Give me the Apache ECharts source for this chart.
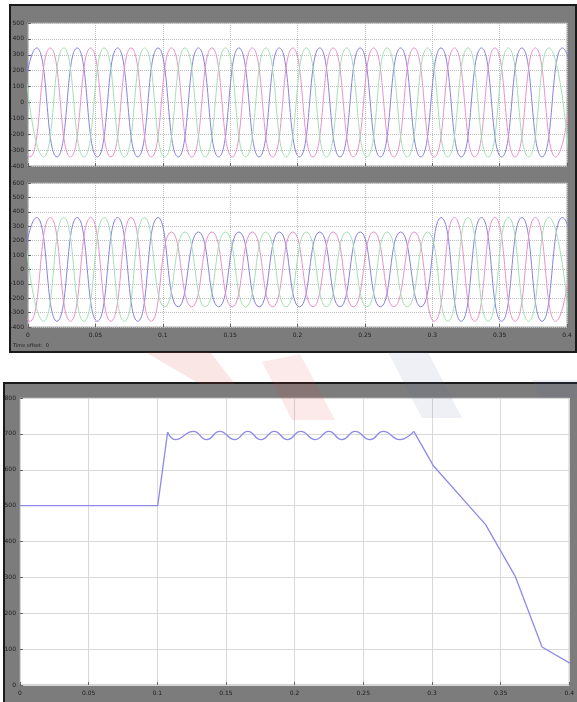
<!DOCTYPE html>
<html>
<head>
<meta charset="utf-8">
<script src="https://cdn.jsdelivr.net/npm/echarts@6/dist/echarts.min.js"></script>
<style>
html,body{margin:0;padding:0;background:#fff;}
#chart{width:577px;height:702px;}
</style>
</head>
<body>
<div id="chart"></div>
<script>
// ---- time axis ticks (s) ----
const timeTicks = [0, 0.05, 0.1, 0.15, 0.2, 0.25, 0.3, 0.35, 0.4];

// ---- three-phase waveforms: instants of each phase's peaks/troughs ----
const tPhaseA = [-0.0085,0.0065,0.0215,0.0365,0.0515,0.0665,0.0815,0.0965,0.1115,0.1265,0.1415,0.1565,0.1715,0.1865,0.2015,0.2165,0.2315,0.2465,0.2615,0.2765,0.2915,0.3065,0.3215,0.3365,0.3515,0.3665,0.3815,0.3965,0.4115];
const tPhaseB = [-0.0135,0.0015,0.0165,0.0315,0.0465,0.0615,0.0765,0.0915,0.1065,0.1215,0.1365,0.1515,0.1665,0.1815,0.1965,0.2115,0.2265,0.2415,0.2565,0.2715,0.2865,0.3015,0.3165,0.3315,0.3465,0.3615,0.3765,0.3915,0.4065];
const tPhaseC = [-0.0035,0.0115,0.0265,0.0415,0.0565,0.0715,0.0865,0.1015,0.1165,0.1315,0.1465,0.1615,0.1765,0.1915,0.2065,0.2215,0.2365,0.2515,0.2665,0.2815,0.2965,0.3115,0.3265,0.3415,0.3565,0.3715,0.3865,0.4015];

// upper scope panel: peak/trough values
const upperA = [-343,343,-343,343,-343,343,-343,343,-343,343,-343,343,-343,343,-343,343,-343,343,-343,343,-343,343,-343,343,-343,343,-343,343,-343];
const upperB = [343,-343,343,-343,343,-343,343,-343,343,-343,343,-343,343,-343,343,-343,343,-343,343,-343,343,-343,343,-343,343,-343,343,-343,343];
const upperC = [343,-343,343,-343,343,-343,343,-343,343,-343,343,-343,343,-343,343,-343,343,-343,343,-343,343,-343,343,-343,343,-343,343,-343];

// lower scope panel: peak/trough values (sag between 0.1 s and 0.3 s)
const lowerA = [-360,360,-360,360,-360,360,-360,360,-260,260,-260,260,-260,260,-260,260,-260,260,-260,260,-260,360,-360,360,-360,360,-360,360,-360];
const lowerB = [360,-360,360,-360,360,-360,360,-360,260,-260,260,-260,260,-260,260,-260,260,-260,260,-260,260,-360,360,-360,360,-360,360,-360,360];
const lowerC = [360,-360,360,-360,360,-360,360,-260,260,-260,260,-260,260,-260,260,-260,260,-260,260,-260,260,-360,360,-360,360,-360,360,-360];

// ---- bottom figure: single trace ----
const respTime  = [0, 0.1003, 0.1075, 0.1131, 0.1263, 0.1359, 0.1455, 0.1564, 0.1659, 0.1755, 0.1852, 0.1948, 0.2044, 0.2152, 0.2249, 0.2345, 0.2441, 0.2549, 0.2646, 0.2766, 0.2868, 0.3009, 0.3391, 0.3608, 0.3802, 0.4004];
const respValue = [500, 500, 705, 684, 707, 684, 707, 684, 707, 684, 707, 684, 707, 684, 707, 684, 707, 684, 707, 684, 707, 612, 447, 302, 106, 61];
// index range of the rippling plateau inside the trace
const plateauStart = 2, plateauEnd = 20;

const phaseColors = ['#8580e2', '#e991c8', '#a3dfb3'];
const traceColor = '#8d8ae8';

function zip(ts, vs) { return ts.map((t, i) => [t, vs[i]]); }

const labelStyle = { fontSize: 6, color: '#1e1e1e', fontFamily: 'DejaVu Sans' };
const scopeGrid = { type: 'dotted', color: '#bdbdbd', width: 1 };

function xAxisCfg(gridIndex, showLabels, splitStyle) {
  return {
    type: 'value', gridIndex, min: 0, max: 0.4, interval: 0.05,
    axisLine: { show: false, onZero: false },
    axisTick: { show: true, inside: true, length: 3, lineStyle: { color: '#666' } },
    axisLabel: Object.assign({ show: showLabels, margin: 5,
      formatter: v => (timeTicks.indexOf(+v.toFixed(3)) >= 0 ? String(+v.toFixed(3)) : '') }, labelStyle),
    splitLine: { show: true, lineStyle: splitStyle }
  };
}
function yAxisCfg(gridIndex, min, max, interval, splitStyle) {
  return {
    type: 'value', gridIndex, min, max, interval,
    axisLine: { show: false, onZero: false },
    axisTick: { show: true, inside: true, length: 3, lineStyle: { color: '#666' } },
    axisLabel: Object.assign({ margin: 4 }, labelStyle),
    splitLine: { show: true, lineStyle: splitStyle }
  };
}
function phaseSeries(idx, ts, vs, k) {
  return {
    type: 'line', xAxisIndex: idx, yAxisIndex: idx, data: zip(ts, vs),
    smooth: 0.55, showSymbol: false, clip: true, animation: false,
    lineStyle: { width: 1, color: phaseColors[k] }
  };
}
function traceSeries(from, to, smooth) {
  return {
    type: 'line', xAxisIndex: 2, yAxisIndex: 2,
    data: zip(respTime.slice(from, to + 1), respValue.slice(from, to + 1)),
    smooth, showSymbol: false, animation: false,
    lineStyle: { width: 1.3, color: traceColor }
  };
}

const chart = echarts.init(document.getElementById('chart'), null, { renderer: 'canvas' });
chart.setOption({
  animation: false,
  backgroundColor: '#ffffff',
  graphic: [
    // scope window frame
    { type: 'rect', z: -10, shape: { x: 10, y: 5, width: 566, height: 347 },
      style: { fill: '#7c7c7c', stroke: '#1a1a1a', lineWidth: 2 } },
    { type: 'text', z: 5, left: 13, top: 343,
      style: { text: 'Time offset:  0', fontSize: 5, fill: '#1e1e1e', fontFamily: 'DejaVu Sans' } },
    // bottom figure frame
    { type: 'rect', z: -10, shape: { x: 4, y: 383, width: 575, height: 320 },
      style: { fill: '#7c7c7c', stroke: '#1a1a1a', lineWidth: 2 } },
    // faint decorative marks laid over the gap between the figures
    { type: 'polygon', z: 50, silent: true, shape: { points: [[145,352],[210,352],[235,384],[200,384]] }, style: { fill: 'rgba(226,60,60,0.13)' } },
    { type: 'polygon', z: 50, silent: true, shape: { points: [[262,362],[300,354],[335,420],[292,420]] }, style: { fill: 'rgba(226,60,60,0.11)' } },
    { type: 'polygon', z: 50, silent: true, shape: { points: [[388,352],[428,352],[462,418],[422,418]] }, style: { fill: 'rgba(90,110,170,0.10)' } },
    { type: 'polygon', z: 50, silent: true, shape: { points: [[532,380],[577,380],[577,398],[542,398]] }, style: { fill: 'rgba(90,110,170,0.10)' } }
  ],
  grid: [
    { left: 28, top: 23, width: 539, height: 143, show: true, backgroundColor: '#fff', borderColor: '#a8a8a8', borderWidth: 1 },
    { left: 28, top: 183, width: 539, height: 144, show: true, backgroundColor: '#fff', borderColor: '#a8a8a8', borderWidth: 1 },
    { left: 20, top: 398, width: 553, height: 287, show: true, backgroundColor: '#fff', borderColor: '#a8a8a8', borderWidth: 1 }
  ],
  xAxis: [
    xAxisCfg(0, false, scopeGrid),
    xAxisCfg(1, true, scopeGrid),
    xAxisCfg(2, true, { type: 'solid', color: '#d8d8d8', width: 1 })
  ],
  yAxis: [
    yAxisCfg(0, -400, 500, 100, scopeGrid),
    yAxisCfg(1, -400, 600, 100, scopeGrid),
    yAxisCfg(2, 0, 800, 100, { type: 'solid', color: '#d8d8d8', width: 1 })
  ],
  series: [
    phaseSeries(0, tPhaseA, upperA, 0),
    phaseSeries(0, tPhaseB, upperB, 1),
    phaseSeries(0, tPhaseC, upperC, 2),
    phaseSeries(1, tPhaseA, lowerA, 0),
    phaseSeries(1, tPhaseB, lowerB, 1),
    phaseSeries(1, tPhaseC, lowerC, 2),
    traceSeries(0, plateauStart, false),
    traceSeries(plateauStart, plateauEnd, 0.5),
    traceSeries(plateauEnd, respTime.length - 1, false)
  ]
});
</script>
</body>
</html>
